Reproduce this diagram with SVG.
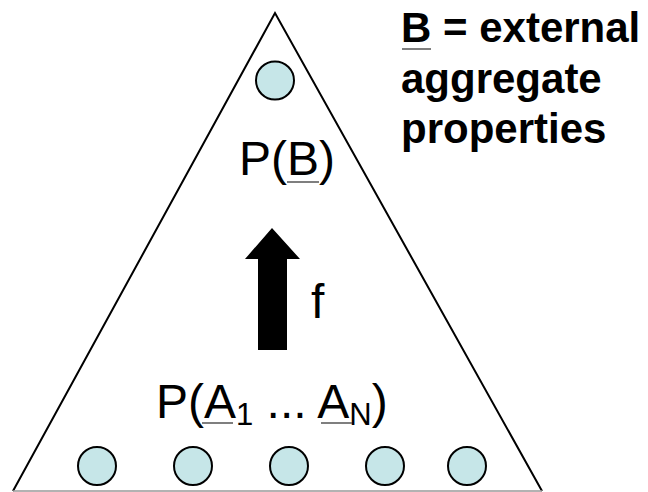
<svg xmlns="http://www.w3.org/2000/svg" width="648" height="492" viewBox="0 0 648 492">
<style>
.edge{fill:none;stroke:#000;stroke-width:2}
.node{fill:#c6e6e8;stroke:#000;stroke-width:2}
.lbl{font-family:"Liberation Sans",Arial,sans-serif;font-size:48px;fill:#000}
.note{font-family:"Liberation Sans",Arial,sans-serif;font-size:42px;font-weight:bold;fill:#000}
.ul{stroke:#555;stroke-width:1.5}
</style>
<rect width="648" height="492" fill="#fff"/>
<g id="triangle">
<polyline class="edge" points="13,491 275,13 542,491"/>
<line x1="13" y1="491" x2="542" y2="491" stroke="#999" stroke-width="1.5"/>
</g>
<g id="node-top"><circle class="node" cx="275" cy="80.5" r="19"/></g>
<g id="node-1"><ellipse class="node" cx="97" cy="466" rx="19" ry="19"/></g>
<g id="node-2"><ellipse class="node" cx="193" cy="466" rx="19" ry="19"/></g>
<g id="node-3"><ellipse class="node" cx="289" cy="466" rx="19" ry="19"/></g>
<g id="node-4"><ellipse class="node" cx="385" cy="466" rx="19" ry="19"/></g>
<g id="node-5"><ellipse class="node" cx="467" cy="466" rx="19" ry="19"/></g>
<g id="label-PB">
<text class="lbl" x="239" y="175">P(B)</text>
<line class="ul" x1="287" y1="182" x2="319" y2="182"/>
</g>
<g id="label-PA">
<text class="lbl" x="156" y="418" font-size="46">P(A<tspan font-size="31" dy="7">1</tspan><tspan dy="-7"> ... A</tspan><tspan font-size="31" dy="7">N</tspan><tspan dy="-7">)</tspan></text>
<line class="ul" x1="202" y1="423" x2="233" y2="423"/>
<line class="ul" x1="321" y1="423" x2="352" y2="423"/>
</g>
<g id="connectors">
<polygon points="272,228 300,259 287,259 287,350 258,350 258,259 245,259" fill="#000"/>
<text class="lbl" x="311" y="318">f</text>
</g>
<g id="note">
<text class="note" x="401" y="42">B = external</text>
<text class="note" x="401" y="93">aggregate</text>
<text class="note" x="401" y="143">properties</text>
<line class="ul" x1="402" y1="49" x2="431" y2="49"/>
</g>
</svg>
